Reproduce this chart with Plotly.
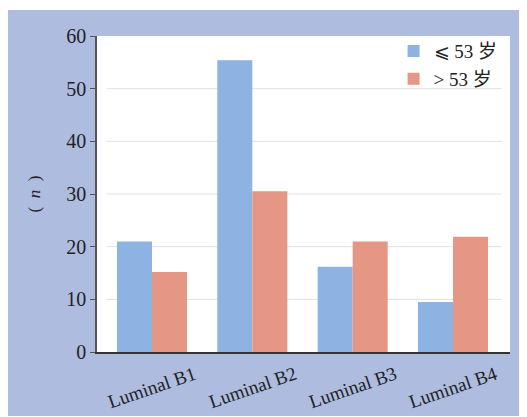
import plotly.graph_objects as go

categories = ["Luminal B1", "Luminal B2", "Luminal B3", "Luminal B4"]
young = [21.0, 55.4, 16.2, 9.5]
old = [15.2, 30.5, 21.0, 21.9]
series_names = ["⩽ 53 岁", "> 53 岁"]
y_ticks = [0, 10, 20, 30, 40, 50, 60]
y_title = "(  <i>n</i>  )"

BLUE = "#8DB3E2"
RED = "#E69684"
PANEL = "#AEBCDF"
FONT = "Liberation Serif, 'Times New Roman', 'Noto Sans CJK SC', serif"

W, H = 519, 408
ML, MR, MT, MB = 89, 17, 28, 64
PW, PH = W - ML - MR, H - MT - MB

fig = go.Figure()
fig.add_trace(go.Bar(x=categories, y=young, name=series_names[0], marker=dict(color=BLUE, line=dict(width=0))))
fig.add_trace(go.Bar(x=categories, y=old, name=series_names[1], marker=dict(color=RED, line=dict(width=0))))

# thin white strip at the very top of the figure (panel starts 2px lower)
shapes = [dict(type="rect", xref="paper", yref="paper", x0=-ML / PW, x1=(PW + MR) / PW,
               y0=(PH + MT - 2) / PH, y1=(PH + MT) / PH, fillcolor="white", line=dict(width=0), layer="below")]
for t in y_ticks[1:-1]:
    shapes.append(dict(type="line", xref="paper", yref="y", x0=0.024, x1=0.98, y0=t, y1=t,
                       line=dict(color="#E0E0E0", width=1), layer="below"))

annotations = []
for c in categories:
    annotations.append(dict(x=c, xref="x", y=0, yref="paper", yshift=-35, text=c, showarrow=False,
                            textangle=-19, xanchor="center", yanchor="middle",
                            font=dict(size=19, family=FONT, color="#222222")))

fig.update_layout(
    width=W, height=H,
    margin=dict(l=ML, r=MR, t=MT, b=MB),
    paper_bgcolor=PANEL,
    plot_bgcolor="white",
    barmode="group",
    bargap=0.302,
    bargroupgap=0,
    font=dict(family=FONT, size=19, color="#222222"),
    shapes=shapes,
    annotations=annotations,
    showlegend=True,
    legend=dict(x=0.982, y=1.012, xanchor="right", yanchor="top", bgcolor="rgba(0,0,0,0)",
                font=dict(size=19, family=FONT, color="#222222"), tracegroupgap=0),
    xaxis=dict(range=[-0.548, 3.568], showgrid=False, showline=True, linecolor="#333333", linewidth=1.5,
               ticks="", showticklabels=False),
    yaxis=dict(range=[0, 60], tickvals=y_ticks, showgrid=False, zeroline=False, showline=True,
               linecolor="#555555", linewidth=1.5, ticks="outside", ticklen=5, tickcolor="#555555",
               tickfont=dict(size=20, family=FONT, color="#222222"),
               title=dict(text=y_title, font=dict(size=17, family=FONT, color="#222222"), standoff=21)),
)

fig.write_html("out.html")
